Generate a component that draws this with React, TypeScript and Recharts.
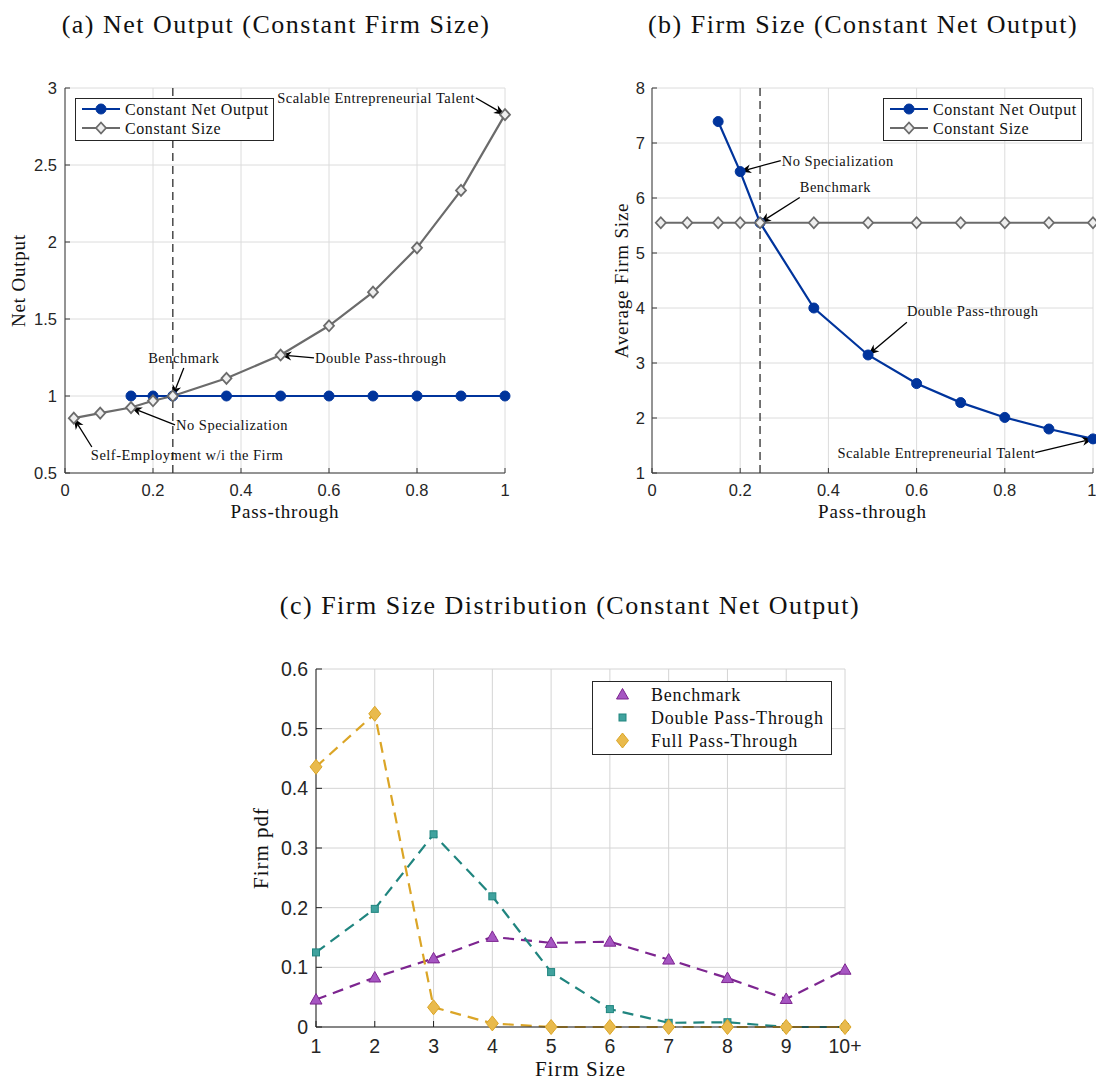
import React from "react";
import {
  LineChart,
  Line,
  XAxis,
  YAxis,
  CartesianGrid,
  ReferenceLine,
  Legend,
} from "recharts";

// ---- data ----
const passThroughSize = [0.02, 0.08, 0.15, 0.2, 0.245, 0.367, 0.49, 0.6, 0.7, 0.8, 0.9, 1.0];
const passThroughNet = [0.15, 0.2, 0.245, 0.367, 0.49, 0.6, 0.7, 0.8, 0.9, 1.0];
const netOutputConstSize = [0.856, 0.889, 0.925, 0.969, 1.0, 1.115, 1.266, 1.456, 1.674, 1.962, 2.335, 2.827];
const netOutputConstNet = [1, 1, 1, 1, 1, 1, 1, 1, 1, 1];
const firmSizeConstNet = [7.39, 6.48, 5.55, 4.0, 3.146, 2.626, 2.28, 2.01, 1.8, 1.62];
const firmSizeConstSize = [5.55, 5.55, 5.55, 5.55, 5.55, 5.55, 5.55, 5.55, 5.55, 5.55, 5.55, 5.55];
const benchmarkPass = 0.245;

const sizeCategories = ["1", "2", "3", "4", "5", "6", "7", "8", "9", "10+"];
const pdfBenchmark = [0.046, 0.083, 0.115, 0.151, 0.141, 0.143, 0.113, 0.082, 0.047, 0.096];
const pdfDouble = [0.125, 0.198, 0.323, 0.219, 0.092, 0.03, 0.007, 0.008, 0.0, 0.0];
const pdfFull = [0.436, 0.525, 0.033, 0.006, 0, 0, 0, 0, 0, 0];

const passTicks = [0, 0.2, 0.4, 0.6, 0.8, 1];
const netOutputTicks = [0.5, 1, 1.5, 2, 2.5, 3];
const firmSizeTicks = [1, 2, 3, 4, 5, 6, 7, 8];
const pdfTicks = [0, 0.1, 0.2, 0.3, 0.4, 0.5, 0.6];

const BLUE = "#00349c";
const GRAY = "#6b6b6b";
const PURPLE = { line: "#7d2590", fill: "#a656c2" };
const TEAL = { line: "#20857f", fill: "#40a29e" };
const GOLD = { line: "#dba526", fill: "#e9ba4c" };

const SERIF = "'Liberation Serif', 'Times New Roman', serif";
const SANS = "'Liberation Sans', Arial, sans-serif";
const AXIS = "#3a3a3a";
const GRID = "#dcdcdc";

const rows = (xs: number[], ys: number[]) => xs.map((p, i) => ({ p, v: ys[i] }));
const constSizeA = rows(passThroughSize, netOutputConstSize);
const constNetA = rows(passThroughNet, netOutputConstNet);
const constSizeB = rows(passThroughSize, firmSizeConstSize);
const constNetB = rows(passThroughNet, firmSizeConstNet);
const pdfRows = sizeCategories.map((c, i) => ({
  size: c,
  bench: pdfBenchmark[i],
  double: pdfDouble[i],
  full: pdfFull[i],
}));

// ---- markers ----
const Dot = ({ cx, cy }: any) => <circle cx={cx} cy={cy} r={5} fill={BLUE} stroke={BLUE} />;
const Diamond = ({ cx, cy, w = 5, h = 5.5, fill = "#eeeeee", stroke = GRAY, sw = 1.8 }: any) => (
  <polygon
    points={`${cx},${cy - h} ${cx + w},${cy} ${cx},${cy + h} ${cx - w},${cy}`}
    fill={fill}
    stroke={stroke}
    strokeWidth={sw}
  />
);
const Triangle = ({ cx, cy }: any) => (
  <polygon
    points={`${cx},${cy - 6} ${cx + 6},${cy + 4.5} ${cx - 6},${cy + 4.5}`}
    fill={PURPLE.fill}
    stroke={PURPLE.line}
    strokeWidth={1}
  />
);
const Square = ({ cx, cy }: any) => (
  <rect x={cx - 3.5} y={cy - 3.5} width={7} height={7} fill={TEAL.fill} stroke={TEAL.line} strokeWidth={1} />
);
const GoldDiamond = ({ cx, cy }: any) => (
  <Diamond cx={cx} cy={cy} w={6} h={7.5} fill={GOLD.fill} stroke={GOLD.line} sw={1} />
);

// ---- annotation arrow (tail -> head), label at tail ----
const makeArrow = (text: string, anchor: string, dx: number, dy: number) => (props: any) => {
  const { x1, y1, x2, y2 } = props;
  const a = Math.atan2(y2 - y1, x2 - x1);
  const ux = Math.cos(a);
  const uy = Math.sin(a);
  const L = 11;
  const W = 4.5;
  const bx = x2 - ux * L;
  const by = y2 - uy * L;
  const nx = x2 - ux * L * 0.7;
  const ny = y2 - uy * L * 0.7;
  const pts = `${x2},${y2} ${bx - uy * W},${by + ux * W} ${nx},${ny} ${bx + uy * W},${by - ux * W}`;
  return (
    <g>
      <line x1={x1} y1={y1} x2={nx} y2={ny} stroke="#000" strokeWidth={1.3} />
      <polygon points={pts} fill="#000" />
      <text
        x={x1 + dx}
        y={y1 + dy}
        textAnchor={anchor as any}
        dominantBaseline="central"
        fontFamily={SERIF}
        fontSize={14.5}
        letterSpacing={0.5}
        fill="#111"
      >
        {text}
      </text>
    </g>
  );
};

type Note = { text: string; tail: [number, number]; head: { p: number; v: number }; anchor: string; dx: number; dy: number };

const notesA: Note[] = [
  { text: "Scalable Entrepreneurial Talent", tail: [0.934, 2.935], head: constSizeA[11], anchor: "end", dx: -1, dy: 0 },
  { text: "Double Pass-through", tail: [0.566, 1.247], head: constSizeA[6], anchor: "start", dx: 1, dy: 0 },
  { text: "Benchmark", tail: [0.27, 1.182], head: constSizeA[4], anchor: "middle", dx: 0, dy: -10 },
  { text: "No Specialization", tail: [0.25, 0.812], head: constSizeA[2], anchor: "start", dx: 1, dy: 0 },
  { text: "Self-Employment w/i the Firm", tail: [0.061, 0.669], head: constSizeA[0], anchor: "start", dx: -1, dy: 8 },
];

const notesB: Note[] = [
  { text: "No Specialization", tail: [0.292, 6.68], head: constNetB[1], anchor: "start", dx: 1, dy: 0 },
  { text: "Benchmark", tail: [0.335, 6.01], head: constNetB[2], anchor: "start", dx: 0, dy: -10 },
  { text: "Double Pass-through", tail: [0.578, 3.74], head: constNetB[4], anchor: "start", dx: 0, dy: -11 },
  { text: "Scalable Entrepreneurial Talent", tail: [0.869, 1.37], head: constNetB[9], anchor: "end", dx: 0, dy: 0 },
];

const renderNotes = (notes: Note[]) =>
  notes.map((n, i) => (
    <ReferenceLine
      key={`note-${i}`}
      segment={[
        { x: n.tail[0], y: n.tail[1] },
        { x: n.head.p, y: n.head.v },
      ]}
      ifOverflow="visible"
      shape={makeArrow(n.text, n.anchor, n.dx, n.dy)}
    />
  ));

// ---- legends ----
const LegendTwo = () => (
  <div style={{ width: 199, height: 43, boxSizing: "border-box", border: "1px solid #262626", background: "#fff" }}>
    <svg width={197} height={41} style={{ display: "block" }}>
      <line x1={6} y1={10} x2={44} y2={10} stroke={BLUE} strokeWidth={2.2} />
      <Dot cx={25} cy={10} />
      <text x={49} y={10} dominantBaseline="central" fontFamily={SERIF} fontSize={16} letterSpacing={0.6} fill="#111">
        Constant Net Output
      </text>
      <line x1={6} y1={29} x2={44} y2={29} stroke={GRAY} strokeWidth={2.2} />
      <Diamond cx={25} cy={29} />
      <text x={49} y={29} dominantBaseline="central" fontFamily={SERIF} fontSize={16} letterSpacing={0.6} fill="#111">
        Constant Size
      </text>
    </svg>
  </div>
);

const LegendThree = () => (
  <div style={{ width: 240, height: 74, boxSizing: "border-box", border: "1px solid #262626", background: "#fff" }}>
    <svg width={238} height={72} style={{ display: "block" }}>
      <Triangle cx={29.5} cy={12.5} />
      <text x={58} y={12.5} dominantBaseline="central" fontFamily={SERIF} fontSize={18} letterSpacing={0.8} fill="#111">
        Benchmark
      </text>
      <Square cx={29.5} cy={35.5} />
      <text x={58} y={35.5} dominantBaseline="central" fontFamily={SERIF} fontSize={18} letterSpacing={0.8} fill="#111">
        Double Pass-Through
      </text>
      <GoldDiamond cx={29.5} cy={58.5} />
      <text x={58} y={58.5} dominantBaseline="central" fontFamily={SERIF} fontSize={18} letterSpacing={0.8} fill="#111">
        Full Pass-Through
      </text>
    </svg>
  </div>
);

const tickStyle = { fontSize: 16.5, fill: "#262626", fontFamily: SANS };
const tickStyleC = { fontSize: 19.5, fill: "#262626", fontFamily: SANS };
const labelStyle = { fontFamily: SERIF, fontSize: 19, letterSpacing: 0.8, fill: "#111", textAnchor: "middle" as const };
const labelStyleC = { fontFamily: SERIF, fontSize: 21, letterSpacing: 1, fill: "#111", textAnchor: "middle" as const };

const Title = ({ cx, cy, children }: any) => (
  <div
    style={{
      position: "absolute",
      left: cx - 350,
      top: cy - 16,
      width: 700,
      lineHeight: "32px",
      textAlign: "center",
      fontFamily: SERIF,
      fontSize: 26,
      letterSpacing: 1.5,
      color: "#111",
      whiteSpace: "nowrap",
    }}
  >
    {children}
  </div>
);

export default function App() {
  return (
    <div style={{ position: "absolute", left: 0, top: 0, width: 1096, height: 1080, background: "#fff", overflow: "hidden" }}>
      <Title cx={276} cy={25}>(a) Net Output (Constant Firm Size)</Title>
      <Title cx={863} cy={25}>(b) Firm Size (Constant Net Output)</Title>
      <Title cx={570} cy={606}>(c) Firm Size Distribution (Constant Net Output)</Title>

      {/* (a) */}
      <div style={{ position: "absolute", left: 0, top: 0 }}>
        <LineChart width={540} height={530} margin={{ top: 88, right: 35, bottom: 17, left: 0 }}>
          <CartesianGrid stroke={GRID} />
          <XAxis
            type="number"
            dataKey="p"
            domain={[0, 1]}
            ticks={passTicks}
            height={40}
            tickSize={-5}
            tickMargin={16}
            tick={tickStyle}
            axisLine={{ stroke: AXIS }}
            tickLine={{ stroke: AXIS }}
            label={{ value: "Pass-through", position: "bottom", offset: -8, style: labelStyle }}
          />
          <YAxis
            type="number"
            domain={[0.5, 3]}
            ticks={netOutputTicks}
            width={65}
            tickSize={-5}
            tickMargin={13}
            tick={tickStyle}
            axisLine={{ stroke: AXIS }}
            tickLine={{ stroke: AXIS }}
            label={{ value: "Net Output", angle: -90, position: "insideLeft", offset: 18, style: labelStyle }}
          />
          <ReferenceLine x={benchmarkPass} stroke="#4a4a4a" strokeWidth={1.5} strokeDasharray="8 5" />
          <Line
            data={constNetA}
            dataKey="v"
            stroke={BLUE}
            strokeWidth={2.2}
            isAnimationActive={false}
            activeDot={false}
            dot={(d: any) => <Dot key={`a-n-${d.index}`} cx={d.cx} cy={d.cy} />}
          />
          <Line
            data={constSizeA}
            dataKey="v"
            stroke={GRAY}
            strokeWidth={2.2}
            isAnimationActive={false}
            activeDot={false}
            dot={(d: any) => <Diamond key={`a-s-${d.index}`} cx={d.cx} cy={d.cy} />}
          />
          {renderNotes(notesA)}
          <Legend
            layout="vertical"
            align="center"
            verticalAlign="middle"
            wrapperStyle={{ left: 75, top: 98, width: 199, height: 43 }}
            content={() => <LegendTwo />}
          />
        </LineChart>
      </div>

      {/* (b) */}
      <div style={{ position: "absolute", left: 600, top: 0 }}>
        <LineChart width={496} height={530} margin={{ top: 88, right: 3, bottom: 17, left: 0 }}>
          <CartesianGrid stroke={GRID} />
          <XAxis
            type="number"
            dataKey="p"
            domain={[0, 1]}
            ticks={passTicks}
            height={40}
            tickSize={-5}
            tickMargin={16}
            tick={tickStyle}
            axisLine={{ stroke: AXIS }}
            tickLine={{ stroke: AXIS }}
            label={{ value: "Pass-through", position: "bottom", offset: -8, style: labelStyle }}
          />
          <YAxis
            type="number"
            domain={[1, 8]}
            ticks={firmSizeTicks}
            width={52}
            tickSize={-5}
            tickMargin={12}
            tick={tickStyle}
            axisLine={{ stroke: AXIS }}
            tickLine={{ stroke: AXIS }}
            label={{ value: "Average Firm Size", angle: -90, position: "insideLeft", offset: 21, style: labelStyle }}
          />
          <ReferenceLine x={benchmarkPass} stroke="#4a4a4a" strokeWidth={1.5} strokeDasharray="8 5" />
          <Line
            data={constNetB}
            dataKey="v"
            stroke={BLUE}
            strokeWidth={2.2}
            isAnimationActive={false}
            activeDot={false}
            dot={(d: any) => <Dot key={`b-n-${d.index}`} cx={d.cx} cy={d.cy} />}
          />
          <Line
            data={constSizeB}
            dataKey="v"
            stroke={GRAY}
            strokeWidth={2.2}
            isAnimationActive={false}
            activeDot={false}
            dot={(d: any) => <Diamond key={`b-s-${d.index}`} cx={d.cx} cy={d.cy} />}
          />
          {renderNotes(notesB)}
          <Legend
            layout="vertical"
            align="center"
            verticalAlign="middle"
            wrapperStyle={{ left: 283, top: 98, width: 199, height: 43 }}
            content={() => <LegendTwo />}
          />
        </LineChart>
      </div>

      {/* (c) */}
      <div style={{ position: "absolute", left: 230, top: 560 }}>
        <LineChart width={640} height={520} data={pdfRows} margin={{ top: 109, right: 25, bottom: 13, left: 0 }}>
          <CartesianGrid stroke="#d4d4d4" />
          <XAxis
            dataKey="size"
            height={40}
            tickSize={-6}
            tickMargin={18}
            tick={tickStyleC}
            interval={0}
            axisLine={{ stroke: "#222" }}
            tickLine={{ stroke: "#222" }}
            label={{ value: "Firm Size", position: "bottom", offset: -6, style: labelStyleC }}
          />
          <YAxis
            type="number"
            domain={[0, 0.6]}
            ticks={pdfTicks}
            width={86}
            tickSize={-6}
            tickMargin={14}
            tick={tickStyleC}
            axisLine={{ stroke: "#222" }}
            tickLine={{ stroke: "#222" }}
            label={{ value: "Firm pdf", angle: -90, position: "insideLeft", offset: 31, style: labelStyleC }}
          />
          <Line
            dataKey="bench"
            stroke={PURPLE.line}
            strokeWidth={2.2}
            strokeDasharray="11 7"
            isAnimationActive={false}
            activeDot={false}
            dot={(d: any) => <Triangle key={`c-b-${d.index}`} cx={d.cx} cy={d.cy} />}
          />
          <Line
            dataKey="double"
            stroke={TEAL.line}
            strokeWidth={2.2}
            strokeDasharray="11 7"
            isAnimationActive={false}
            activeDot={false}
            dot={(d: any) => <Square key={`c-d-${d.index}`} cx={d.cx} cy={d.cy} />}
          />
          <Line
            dataKey="full"
            stroke={GOLD.line}
            strokeWidth={2.2}
            strokeDasharray="11 7"
            isAnimationActive={false}
            activeDot={false}
            dot={(d: any) => <GoldDiamond key={`c-f-${d.index}`} cx={d.cx} cy={d.cy} />}
          />
          <Legend
            layout="vertical"
            align="center"
            verticalAlign="middle"
            wrapperStyle={{ left: 362, top: 121, width: 240, height: 74 }}
            content={() => <LegendThree />}
          />
        </LineChart>
      </div>
    </div>
  );
}
